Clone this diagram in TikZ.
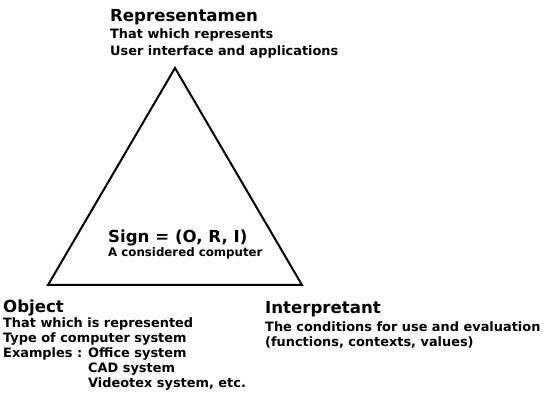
\documentclass[tikz,border=0pt]{standalone}
\usepackage{fontspec}
\setmainfont{DejaVu Sans}
\begin{document}
\begin{tikzpicture}[x=1pt,y=-1pt,
  head/.style={anchor=base west,inner sep=0pt,font=\bfseries\fontsize{16.6}{18}\selectfont},
  sub/.style={anchor=base west,inner sep=0pt,font=\bfseries\fontsize{12.9}{15}\selectfont},
  subs/.style={anchor=base west,inner sep=0pt,font=\bfseries\fontsize{11.8}{14}\selectfont},
  edge/.style={line width=2pt,line join=miter}]
\useasboundingbox (0,0) rectangle (544,406);
% triangle
\coordinate (R) at (175,68);
\coordinate (O) at (48,285);
\coordinate (I) at (302,285);
\draw[edge] (R) -- (O) -- (I) -- cycle;
% Representamen
\node[head] (r1) at (110,22) {Representamen};
\node[sub] (r2) at (110,39) {That which represents};
\node[sub] (r3) at (110,56) {User interface and applications};
% Sign
\node[head] (s1) at (108,243) {Sign = (O, R, I)};
\node[subs] (s2) at (108,257) {A considered computer};
% Object
\node[head] (o1) at (3,313) {Object};
\node[sub] (o2) at (3,327) {That which is represented};
\node[sub] (o3) at (3,342) {Type of computer system};
\node[sub] (o4) at (3,357) {Examples :};
\node[sub] (o5) at (88,357) {Office system};
\node[sub] (o6) at (88,372) {CAD system};
\node[sub] (o7) at (88,387) {Videotex system, etc.};
% Interpretant
\node[head] (i1) at (265,314) {Interpretant};
\node[sub] (i2) at (265,332) {The conditions for use and evaluation};
\node[sub] (i3) at (265,347) {(functions, contexts, values)};
\end{tikzpicture}
\end{document}
